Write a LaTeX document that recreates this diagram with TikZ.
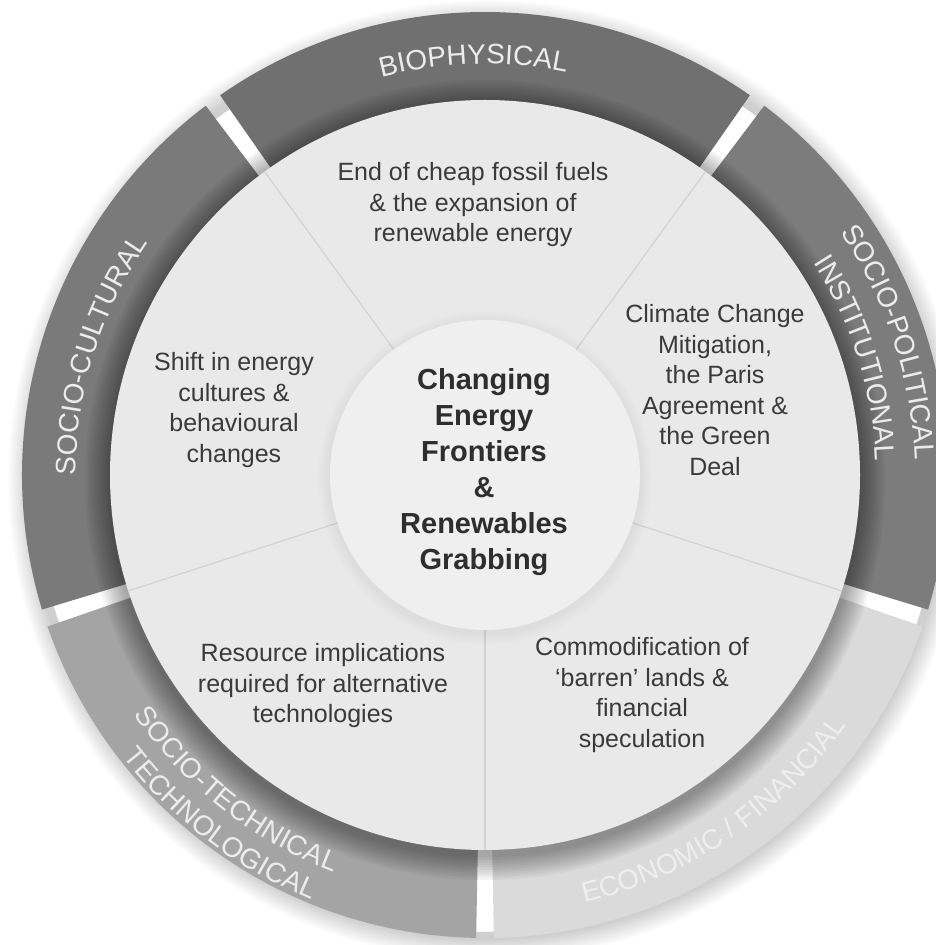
\documentclass[tikz,border=0pt]{standalone}
\usepackage{fontspec}
\setmainfont{Liberation Sans}
\usetikzlibrary{decorations.text}
\definecolor{cBio}{HTML}{707070}
\definecolor{cCul}{HTML}{7A7A7A}
\definecolor{cTech}{HTML}{A4A4A4}
\definecolor{cEco}{HTML}{DADADA}
\definecolor{cPol}{HTML}{7C7C7C}
\definecolor{cInner}{HTML}{E9E9E9}
\definecolor{cCenter}{HTML}{EFEFEF}
\definecolor{cDiv}{HTML}{D2D2D2}
\definecolor{cText}{HTML}{3A3A3A}
\definecolor{cCore}{HTML}{2E2E2E}
\definecolor{cLab}{HTML}{ECECEC}
\definecolor{cLabEco}{HTML}{EEEEEE}
\newcommand\labfont{\fontsize{28}{28}\selectfont\color{cLab}}
\newcommand\labfonteco{\fontsize{28}{28}\selectfont\color{cLabEco}}
\tikzset{
  innertext/.style={align=center, font=\fontsize{25}{30.5}\selectfont, text=cText, inner sep=0pt},
  coretext/.style={align=center, font=\fontsize{29}{36}\selectfont\bfseries, text=cCore, inner sep=0pt},
  divline/.style={draw=cDiv, line width=1.2pt},
}
\begin{document}
\begin{tikzpicture}[x=1pt,y=1pt]
\useasboundingbox (0,0) rectangle (936,945);
\clip (0,0) rectangle (936,945);
\fill[white] (0,0) rectangle (936,945);
\coordinate (C) at (485,470);

% outer soft shadow (ring outside the wheel)
\foreach \k in {1,...,12}
  \fill[black,opacity=0.016,even odd rule] ([shift={(3,-5)}]C) circle[radius={458pt+1.8pt*\k}]
      ([shift={(3,-5)}]C) circle[radius=452pt];

% outer bands
\foreach \a/\b/\col in {54/126/cBio, 126/198/cCul, 198/270/cTech, 270/342/cEco, 342/414/cPol}{
  \fill[\col] ([shift={({\a+1.1}:463pt)}]C)
      arc[start angle={\a+1.1}, end angle={\b-1.1}, radius=463pt]
      -- ([shift={({\b-1.1}:368pt)}]C)
      arc[start angle={\b-1.1}, end angle={\a+1.1}, radius=368pt] -- cycle;
}

% shadow of the inner disc on the bands
\foreach \k in {1,...,10}
  \fill[black,opacity=0.04] ([shift={(0,-5)}]C) circle[radius={375pt+2.5pt*\k}];

% inner disc
\fill[cInner] (C) circle[radius=375pt];
\foreach \a in {54,126,198,270,342}
  \draw[divline] ([shift={(\a:155pt)}]C) -- ([shift={(\a:375pt)}]C);

% centre disc
\foreach \k in {1,...,6}
  \fill[black,opacity=0.007] ([shift={(0,-3)}]C) circle[radius={155pt+2pt*\k}];
\fill[cCenter] (C) circle[radius=155pt];

% band labels
\path[decorate, decoration={text along path, text align=center,
  text={|\labfont|BIOPHYSICAL}}]
  ([shift={(131.6:411pt)}]C) arc[start angle=131.6, end angle=51.6, radius=411pt];
\path[decorate, decoration={text along path, text align=center,
  text={|\labfont|SOCIO-CULTURAL}}]
  ([shift={(207.7:409pt)}]C) arc[start angle=207.7, end angle=117.7, radius=409pt];
\path[decorate, decoration={text along path, text align=center,
  text={|\labfont|SOCIO-POLITICAL}}]
  ([shift={(63.2:430pt)}]C) arc[start angle=63.2, end angle=-26.8, radius=430pt];
\path[decorate, decoration={text along path, text align=center,
  text={|\labfont|INSTITUTIONAL}}]
  ([shift={(62.5:391pt)}]C) arc[start angle=62.5, end angle=-27.5, radius=391pt];
\path[decorate, decoration={text along path, text align=center,
  text={|\labfont|SOCIO-TECHNICAL}}]
  ([shift={(186.7:425pt)}]C) arc[start angle=186.7, end angle=276.7, radius=425pt];
\path[decorate, decoration={text along path, text align=center,
  text={|\labfont|TECHNOLOGICAL}}]
  ([shift={(187.8:459pt)}]C) arc[start angle=187.8, end angle=277.8, radius=459pt];
\path[decorate, decoration={text along path, text align=center,
  text={|\labfonteco|ECONOMIC / FINANCIAL}}]
  ([shift={(259.2:439pt)}]C) arc[start angle=259.2, end angle=349.2, radius=439pt];

% texts
\node[coretext] (core) at (484,473) {Changing\\Energy\\Frontiers\\\&\\Renewables\\Grabbing};
\node[innertext] (bio) at (473,740) {End of cheap fossil fuels\\\& the expansion of\\renewable energy};
\node[innertext] (cul) at (234,535) {Shift in energy\\cultures \&\\behavioural\\changes};
\node[innertext] (pol) at (715,555) {Climate Change\\Mitigation,\\the Paris\\Agreement \&\\the Green\\Deal};
\node[innertext] (tech) at (323,259) {Resource implications\\required for alternative\\technologies};
\node[innertext] (eco) at (642,250) {Commodification of\\‘barren’ lands \&\\financial\\speculation};
\end{tikzpicture}
\end{document}
